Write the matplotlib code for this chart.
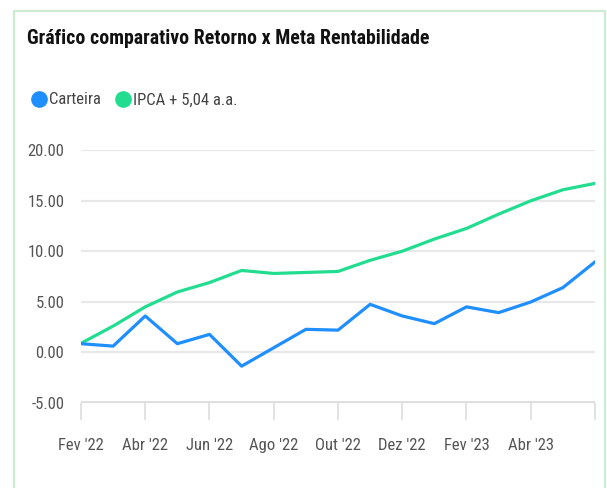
import matplotlib
matplotlib.use("Agg")
import matplotlib.pyplot as plt
from matplotlib.lines import Line2D

months = ["Fev '22", "Mar '22", "Abr '22", "Mai '22", "Jun '22", "Jul '22",
          "Ago '22", "Set '22", "Out '22", "Nov '22", "Dez '22", "Jan '23",
          "Fev '23", "Mar '23", "Abr '23", "Mai '23", "Jun '23"]
carteira = [0.86, 0.62, 3.6, 0.86, 1.78, -1.36, 0.46, 2.28, 2.2, 4.75,
            3.6, 2.84, 4.5, 3.93, 4.98, 6.4, 8.94]
ipca_meta = [0.9, 2.6, 4.5, 5.97, 6.9, 8.1, 7.8, 7.9, 8.0, 9.1,
             10.0, 11.2, 12.25, 13.66, 14.98, 16.07, 16.7]
y_ticks = [-5, 0, 5, 10, 15, 20]

BLUE = "#1f8fff"
GREEN = "#22dd90"

plt.rcParams["font.family"] = ["Roboto Condensed", "DejaVu Sans"]

W, H = 607, 488
fig = plt.figure(figsize=(W / 100, H / 100), dpi=100)
fig.patch.set_facecolor("white")

# light green card border, bottom edge is off the picture
fig.add_artist(Line2D([14 / W, 14 / W, 605 / W, 605 / W],
                      [0, 1 - 11 / H, 1 - 11 / H, 0],
                      transform=fig.transFigure, color="#cdebd0", lw=1.6))

ax = fig.add_axes([81 / W, 1 - 403 / H, (595 - 81) / W, (403 - 150) / H])
x = list(range(len(months)))
ax.plot(x, ipca_meta, color=GREEN, lw=2.3, solid_joinstyle="round")
ax.plot(x, carteira, color=BLUE, lw=2.3, solid_joinstyle="round")

ax.set_xlim(0, len(months) - 1)
ax.set_ylim(-5, 20)
ax.set_yticks(y_ticks)
ax.set_yticklabels([f"{v:.2f}" for v in y_ticks])
ax.set_xticks(x[::2])
ax.set_xticklabels(months[::2][:-1] + [""])
for v in y_ticks[1:]:
    ax.axhline(v, color="#e8e8e8", lw=1.6, zorder=0)
ax.axhline(-5, color="#dcdcdc", lw=2.6, zorder=0)
for s in ax.spines.values():
    s.set_visible(False)
ax.tick_params(axis="y", length=0, pad=12, labelsize=12, labelcolor="#555555")
ax.tick_params(axis="x", length=12, width=1.4, color="#e2e2e2", pad=13,
               labelsize=12, labelcolor="#555555")
ax.set_facecolor("none")

fig.text(27 / W, 1 - 38 / H, "Gráfico comparativo Retorno x Meta Rentabilidade",
         fontsize=14.3, fontweight="bold", color="#111111", va="center")

handles = [Line2D([], [], marker="o", ls="", ms=11, color=BLUE, label="Carteira"),
           Line2D([], [], marker="o", ls="", ms=11, color=GREEN, label="IPCA + 5,04 a.a.")]
fig.legend(handles=handles, loc="center left", ncol=2, frameon=False,
           bbox_to_anchor=(31 / W, 1 - 100 / H), bbox_transform=fig.transFigure,
           fontsize=12, labelcolor="#444444", handletextpad=0.15, columnspacing=0.9,
           handlelength=0.9, borderpad=0, borderaxespad=0)

fig.savefig("out.png", dpi=100, facecolor="white")
